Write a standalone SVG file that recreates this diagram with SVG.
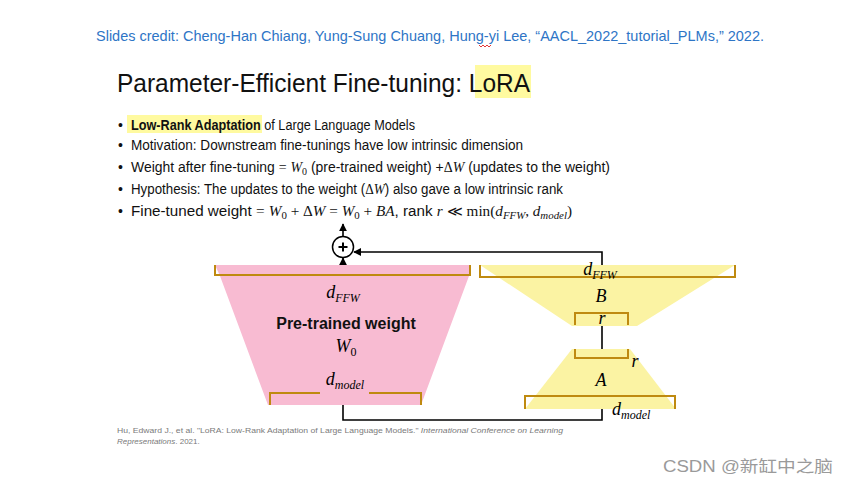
<svg xmlns="http://www.w3.org/2000/svg" width="849" height="486" viewBox="0 0 849 486">
<style>
.sans{font-family:"Liberation Sans","Noto Sans",sans-serif}
.math{font-family:"Liberation Serif","DejaVu Serif",serif;font-style:italic}
.up{font-family:"Liberation Serif","DejaVu Serif",serif}
.brk{fill:none;stroke:#BF8A10;stroke-width:2}
.ln{fill:none;stroke:#000;stroke-width:1.6}
.pink{fill:#F8BBD2}
.yel{fill:#FBF3A3}
.hl{fill:#FFFAA0}
</style>
<defs>
<marker id="ah" viewBox="0 0 10 10" refX="9" refY="5" markerWidth="5" markerHeight="5" orient="auto-start-reverse">
<path d="M0,0 L10,5 L0,10 z" fill="#000"/>
</marker>
</defs>
<rect width="849" height="486" fill="#fff"/>

<g id="credit">
<text class="sans" x="96" y="41" font-size="14.5" fill="#2E75C6" textLength="668" lengthAdjust="spacingAndGlyphs">Slides credit: Cheng-Han Chiang, Yung-Sung Chuang, Hung-yi Lee, “AACL_2022_tutorial_PLMs,” 2022.</text>
<path d="M479,45 l2,2 l2,-2 l2,2 l2,-2 l2,2 l2,-2" fill="none" stroke="#E02020" stroke-width="0.9"/>
</g>

<g id="title">
<rect class="hl" x="475" y="65" width="56" height="33"/>
<text class="sans" x="117" y="92" font-size="26" fill="#111" textLength="413" lengthAdjust="spacingAndGlyphs">Parameter-Efficient Fine-tuning: LoRA</text>
</g>

<g id="bullets" fill="#111" font-size="14">
<rect class="hl" x="127" y="115" width="135" height="18"/>
<text class="sans" x="118" y="130">•</text>
<text class="sans" x="131" y="130" textLength="284" lengthAdjust="spacingAndGlyphs"><tspan font-weight="bold">Low-Rank Adaptation</tspan> of Large Language Models</text>
<text class="sans" x="118" y="150">•</text>
<text class="sans" x="131" y="150" textLength="392" lengthAdjust="spacingAndGlyphs">Motivation: Downstream fine-tunings have low intrinsic dimension</text>
<text class="sans" x="118" y="172">•</text>
<text class="sans" x="131" y="172" textLength="479" lengthAdjust="spacingAndGlyphs">Weight after fine-tuning <tspan class="up">=</tspan> <tspan class="math">W</tspan><tspan class="up" font-size="10" dy="3">0</tspan><tspan dy="-3"> (pre-trained weight) +</tspan><tspan class="up">Δ</tspan><tspan class="math">W</tspan> (updates to the weight)</text>
<text class="sans" x="118" y="194">•</text>
<text class="sans" x="131" y="194" textLength="432" lengthAdjust="spacingAndGlyphs">Hypothesis: The updates to the weight (<tspan class="up">Δ</tspan><tspan class="math">W</tspan>) also gave a low intrinsic rank</text>
<text class="sans" x="118" y="216">•</text>
<text class="sans" x="131" y="216" textLength="441" lengthAdjust="spacingAndGlyphs">Fine-tuned weight <tspan class="up">=</tspan> <tspan class="math">W</tspan><tspan class="up" font-size="10" dy="3">0</tspan><tspan class="up" dy="-3"> + Δ</tspan><tspan class="math">W</tspan><tspan class="up"> = </tspan><tspan class="math">W</tspan><tspan class="up" font-size="10" dy="3">0</tspan><tspan class="up" dy="-3"> + </tspan><tspan class="math">BA</tspan>, rank <tspan class="math">r</tspan><tspan class="up"> ≪ min(</tspan><tspan class="math">d</tspan><tspan class="math" font-size="10" dy="3">FFW</tspan><tspan class="up" dy="-3">, </tspan><tspan class="math">d</tspan><tspan class="math" font-size="10" dy="3">model</tspan><tspan class="up" dy="-3">)</tspan></text>
</g>

<g id="pretrained">
<polygon class="pink" points="215,265 470,265 469,276 421,405 268,405 220,276"/>
<path class="brk" d="M215,265 V275 H470 V265"/>
<path class="brk" d="M270,405 V393 H320 M369,393 H421 V405"/>
<text class="math" x="343" y="298" font-size="18" text-anchor="middle">d<tspan font-size="12" dy="4">FFW</tspan></text>
<text class="sans" x="346" y="329" font-size="16" font-weight="bold" text-anchor="middle" fill="#111">Pre-trained weight</text>
<text class="math" x="346" y="352" font-size="18" text-anchor="middle">W<tspan class="up" font-style="normal" font-size="12" dy="4">0</tspan></text>
<text class="math" x="345" y="385" font-size="18" text-anchor="middle">d<tspan font-size="12" dy="4">model</tspan></text>
</g>

<g id="plus">
<circle cx="343" cy="247" r="10.5" fill="#fff" stroke="#000" stroke-width="1.5"/>
<path d="M338.5,247 H347.5 M343,242.5 V251.5" stroke="#000" stroke-width="2"/>
</g>

<g id="B">
<polygon class="yel" points="480,265 735,265 637,326 572,326"/>
<path class="brk" d="M480,265 V277 H735 V265"/>
<path class="brk" d="M575,325 V313 H628 V325"/>
<text class="math" x="600" y="275" font-size="18" text-anchor="middle">d<tspan font-size="12" dy="4">FFW</tspan></text>
<text class="math" x="601" y="302" font-size="18" text-anchor="middle">B</text>
<text class="math" x="602" y="324" font-size="18" text-anchor="middle">r</text>
</g>

<g id="A">
<polygon class="yel" points="572,349 630,349 676,409 525,409"/>
<path class="brk" d="M575,349 V358 H628 V349"/>
<path class="brk" d="M525,409 V396 H675 V409"/>
<text class="math" x="635" y="367" font-size="18" text-anchor="middle">r</text>
<text class="math" x="601" y="386" font-size="18" text-anchor="middle">A</text>
<text class="math" x="612" y="415" font-size="18">d<tspan font-size="12" dy="4">model</tspan></text>
</g>

<g id="connectors">
<path class="ln" d="M343,236.5 V224" marker-end="url(#ah)"/>
<path class="ln" d="M343,265 V258" marker-end="url(#ah)"/>
<path class="ln" d="M602,265 V252 H354" marker-end="url(#ah)"/>
<path class="ln" d="M602,326 V349"/>
<path class="ln" d="M343,405 V420 H602 V409"/>
</g>

<g id="citation" fill="#7a7a7a" font-size="8">
<text class="sans" x="117" y="433" textLength="446" lengthAdjust="spacingAndGlyphs">Hu, Edward J., et al. "LoRA: Low-Rank Adaptation of Large Language Models." <tspan font-style="italic">International Conference on Learning</tspan></text>
<text class="sans" x="117" y="444"><tspan font-style="italic">Representations</tspan>. 2021.</text>
</g>

<g id="watermark">
<text x="663" y="472" font-size="16" fill="#9a9a9a" font-family="'Liberation Sans','Noto Sans CJK SC',sans-serif" textLength="170" lengthAdjust="spacingAndGlyphs">CSDN @新缸中之脑</text>
</g>
</svg>
